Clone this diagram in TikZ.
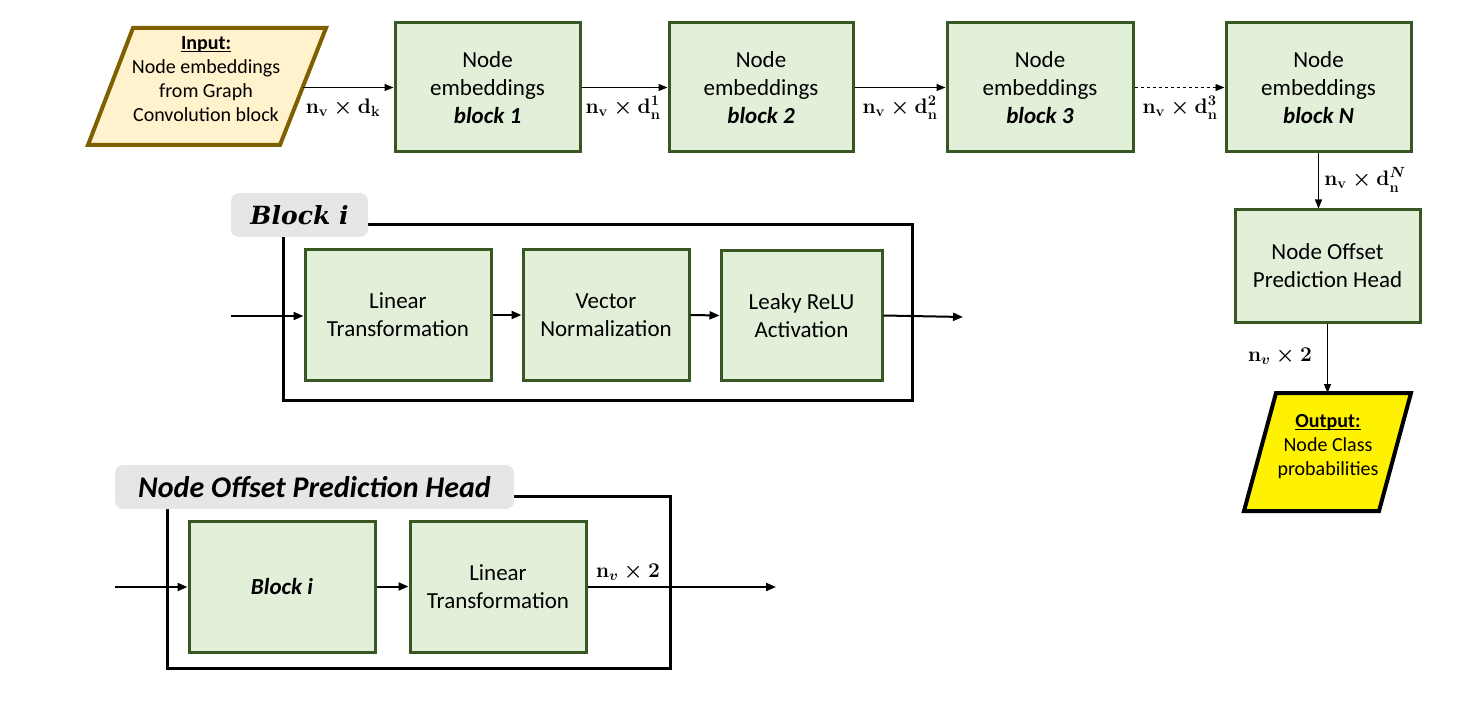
\RequirePackage{fix-cm}
\documentclass[tikz,border=0pt]{standalone}
\usepackage{amsmath}
\usepackage[no-math]{fontspec}
\setmainfont{Carlito}
\newfontfamily\titleserif{DejaVu Serif}
\usetikzlibrary{arrows.meta}
\definecolor{gfill}{HTML}{E2F0D9}
\definecolor{gline}{HTML}{385723}
\definecolor{yfill}{HTML}{FFF2CC}
\definecolor{yline}{HTML}{7F6000}
\definecolor{tgray}{HTML}{E7E6E6}
\newcommand\myul[1]{\setbox0\hbox{#1}\rlap{\rule[-2.5pt]{\wd0}{1.2pt}}\box0}
\tikzset{
  gbox/.style={draw=gline, fill=gfill, line width=3pt, align=center,
    font=\fontsize{23}{28}\selectfont, inner sep=0pt},
  arr/.style={-{Triangle[length=9pt,width=7pt]}, line width=1.2pt},
  arrb/.style={-{Triangle[length=10pt,width=8pt]}, line width=2pt},
  mlab/.style={font=\fontsize{21}{25}\selectfont\boldmath, inner sep=0pt},
  ttl/.style={fill=tgray, rounded corners=8pt, inner sep=0pt},
  frm/.style={draw=black, line width=3pt},
  para/.style={line width=4pt, line join=miter},
  ptext/.style={align=center, font=\fontsize{20}{24}\selectfont, inner sep=0pt}
}
\begin{document}
\begin{tikzpicture}[x=1pt,y=-1pt]
\useasboundingbox (0,0) rectangle (1469,711);
% input parallelogram
\draw[para, draw=yline, fill=yfill] (133,28) -- (326,28) -- (280,145) -- (88,145) -- cycle;
\node[ptext] (inp) at (206,79) {\myul{\textbf{Input:}}\\Node embeddings\\from Graph\\Convolution block};
\coordinate (inpR) at (303,87.5);
% top row blocks
\node[gbox, minimum width=185pt, minimum height=129pt] (b1) at (487.5,87.5) {Node\\embeddings\\\textbf{\textit{block 1}}};
\node[gbox, minimum width=184pt, minimum height=129pt] (b2) at (761,87.5) {Node\\embeddings\\\textbf{\textit{block 2}}};
\node[gbox, minimum width=186pt, minimum height=129pt] (b3) at (1040,87.5) {Node\\embeddings\\\textbf{\textit{block 3}}};
\node[gbox, minimum width=185pt, minimum height=129pt] (bN) at (1318.5,87.5) {Node\\embeddings\\\textbf{\textit{block N}}};
\node[gbox, minimum width=185pt, minimum height=112pt] (noph) at (1327.5,266) {Node Offset\\Prediction Head};
\draw[arr] (inpR) -- (b1.west);
\draw[arr] (b1.east) -- (b2.west);
\draw[arr] (b2.east) -- (b3.west);
\draw[arr, line width=0.9pt, dashed] (b3.east) -- (bN.west);
\draw[arr] (bN.south) -- (bN.south |- noph.north);
\node[mlab] (l0) at (343,108) {$\mathbf{n_v}\times\mathbf{d_k}$};
\node[mlab] (l1) at (623,108) {$\mathbf{n_v}\times\mathbf{d_n^1}$};
\node[mlab] (l2) at (900,108) {$\mathbf{n_v}\times\mathbf{d_n^2}$};
\node[mlab] (l3) at (1180,108) {$\mathbf{n_v}\times\mathbf{d_n^3}$};
\node[mlab] (l4) at (1365,180) {$\mathbf{n_v}\times\mathbf{d}_{\mathbf{n}}^{N}$};
% output
\draw[para, draw=black, fill=yellow] (1276,393) -- (1411,393) -- (1379,511) -- (1244,511) -- cycle;
\node[ptext] (outp) at (1328,447) {\myul{\textbf{Output:}}\\Node Class\\probabilities};
\coordinate (outT) at (1327.5,393);
\draw[arr] (noph.south) -- (outT);
\node[mlab] (l5) at (1280,356) {$\mathbf{n}_{v}\times\mathbf{2}$};
% Block i detail
\draw[frm] (283,225) rectangle (912,400);
\node[ttl, minimum width=137pt, minimum height=44pt, font=\fontsize{25}{30}\selectfont\titleserif\bfseries\itshape] (bit) at (299.5,215) {Block i};
\node[gbox, minimum width=186pt, minimum height=130pt] (lt1) at (398,315) {Linear\\Transformation};
\node[gbox, minimum width=166pt, minimum height=130pt] (vn) at (606,315) {Vector\\Normalization};
\node[gbox, minimum width=161pt, minimum height=129pt] (lr) at (801.5,315.5) {Leaky ReLU\\Activation};
\coordinate (biIn) at (231,316);
\coordinate (biOut) at (963,317);
\draw[arrb] (biIn) -- (lt1.west |- biIn);
\draw[arrb] (lt1.east) -- (vn.west);
\draw[arrb] (vn.east) -- (lr.west);
\draw[arrb] (lr.east) -- (biOut);
% Node Offset Prediction Head detail
\draw[frm] (167,496) rectangle (670,668);
\node[ttl, minimum width=399pt, minimum height=44pt] (npt) at (314.5,487) {\fontsize{30}{36}\selectfont\bfseries\itshape Node Offset Prediction Head};
\node[gbox, minimum width=186pt, minimum height=131pt] (bi) at (282,586.5) {\textbf{\textit{Block i}}};
\node[gbox, minimum width=176pt, minimum height=131pt] (lt2) at (498,586.5) {Linear\\Transformation};
\coordinate (nIn) at (115,587);
\coordinate (nOut) at (776,587);
\draw[arrb] (nIn) -- (bi.west |- nIn);
\draw[arrb] (bi.east) -- (lt2.west);
\draw[arrb] (lt2.east |- nOut) -- (nOut);
\node[mlab] (l6) at (628,572) {$\mathbf{n}_{v}\times\mathbf{2}$};
\end{tikzpicture}
\end{document}
